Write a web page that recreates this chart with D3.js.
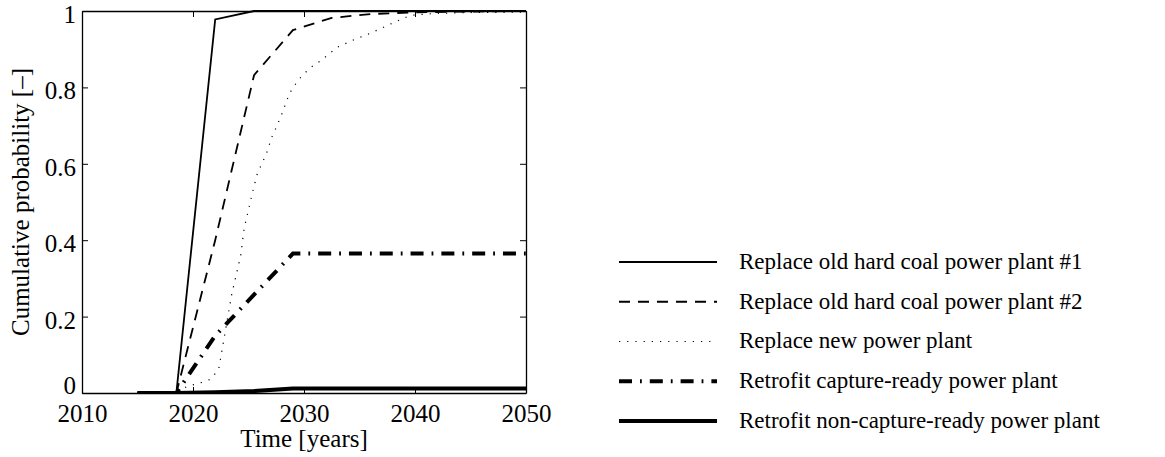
<!DOCTYPE html>
<html>
<head>
<meta charset="utf-8">
<script src="https://cdn.jsdelivr.net/npm/d3@7"></script>
<style>
  body { margin: 0; background: #fff; }
  svg text { font-family: "Liberation Serif", "Times New Roman", serif; fill: #000; }
</style>
</head>
<body>
<svg id="chart" width="1165" height="457"></svg>
<script>
// Time steps of the option model (3.5-year periods)
const years = [2015, 2018.5, 2022, 2025.5, 2029, 2032.5, 2036, 2039.5, 2043, 2046.5, 2050];
const replaceOld1 = [0, 0, 0.978, 1, 1, 1, 1, 1, 1, 1, 1];
const replaceOld2 = [0, 0, 0.40, 0.832, 0.95, 0.982, 0.992, 0.996, 0.998, 0.999, 1];
const retrofitReady = [0, 0, 0.15, 0.2575, 0.365, 0.365, 0.365, 0.365, 0.365, 0.365, 0.365];
const retrofitNonReady = [0, 0, 0.002, 0.005, 0.012, 0.012, 0.012, 0.012, 0.012, 0.012, 0.012];

// The new-plant curve is sampled more finely
const newPlantYears = [2015, 2018.5, 2019.5, 2020.5, 2021.5, 2022.3, 2022.6, 2022.9, 2023.2, 2023.5, 2023.9, 2024.3, 2024.6,
  2025.0, 2025.4, 2025.8, 2026.2, 2026.6, 2027.1, 2027.5, 2028.0, 2028.7, 2029.5, 2030.5, 2031.5, 2033.0, 2034.5,
  2036.0, 2037.5, 2038.5, 2039.3, 2040.0, 2042.0, 2045.0, 2050.0];
const newPlant = [0, 0, 0.018, 0.025, 0.035, 0.06, 0.11, 0.16, 0.21, 0.26, 0.31, 0.36, 0.43,
  0.48, 0.53, 0.575, 0.60, 0.625, 0.67, 0.695, 0.73, 0.785, 0.82, 0.85, 0.87, 0.905, 0.925,
  0.942, 0.962, 0.975, 0.985, 0.99, 0.994, 0.996, 0.997];

const xTicks = [2010, 2020, 2030, 2040, 2050];
const yTicks = [0, 0.2, 0.4, 0.6, 0.8, 1];
const yTickLabels = ["0", "0.2", "0.4", "0.6", "0.8", "1"];

const seriesNames = [
  "Replace old hard coal power plant #1",
  "Replace old hard coal power plant #2",
  "Replace new power plant",
  "Retrofit capture-ready power plant",
  "Retrofit non-capture-ready power plant"
];

const styles = [
  { width: 1.8, dash: null },
  { width: 1.8, dash: "11,8" },
  { width: 1.2, dash: "1.2,7" },
  { width: 4, dash: "13,8,1.8,8" },
  { width: 4, dash: null }
];

const series = [
  { x: years, y: replaceOld1 },
  { x: years, y: replaceOld2 },
  { x: newPlantYears, y: newPlant },
  { x: years, y: retrofitReady },
  { x: years, y: retrofitNonReady }
];

const svg = d3.select("#chart");
const margin = { left: 82, right: 526, top: 11, bottom: 393 };

const x = d3.scaleLinear().domain([2010, 2050]).range([margin.left, margin.right]);
const y = d3.scaleLinear().domain([0, 1]).range([margin.bottom, margin.top]);

const plot = svg.append("g");
plot.append("defs").append("clipPath").attr("id", "clip")
  .append("rect")
  .attr("x", margin.left).attr("y", margin.top - 3)
  .attr("width", margin.right - margin.left).attr("height", margin.bottom - margin.top + 3);

const line = d3.line().x(d => x(d[0])).y(d => y(d[1]));

// Draw thick series first, thin ones on top
const order = [4, 3, 2, 1, 0];
order.forEach(i => {
  const s = series[i];
  const pts = s.x.map((v, k) => [v, s.y[k]]);
  plot.append("path")
    .attr("d", line(pts))
    .attr("fill", "none")
    .attr("stroke", "#000")
    .attr("stroke-width", styles[i].width)
    .attr("stroke-dasharray", styles[i].dash)
    .attr("stroke-linejoin", "miter")
    .attr("clip-path", "url(#clip)");
});

// Axes (ticks pointing inward on all four sides)
const tickFont = 25;
const bottomAxis = d3.axisBottom(x).tickValues(xTicks).tickSize(-6).tickSizeOuter(0).tickFormat(d3.format("d"));
const topAxis = d3.axisTop(x).tickValues(xTicks).tickSize(-6).tickSizeOuter(0).tickFormat("");
const leftAxis = d3.axisLeft(y).tickValues(yTicks).tickSize(-6).tickSizeOuter(0).tickPadding(6).tickFormat((d, i) => yTickLabels[i]);
const rightAxis = d3.axisRight(y).tickValues(yTicks).tickSize(-6).tickSizeOuter(0).tickFormat("");

function styleAxis(g) {
  g.select(".domain").attr("stroke", "#000").attr("stroke-width", 1.3);
  g.selectAll(".tick line").attr("stroke", "#000").attr("stroke-width", 1);
  g.selectAll(".tick text").attr("font-size", tickFont);
}

svg.append("g").attr("transform", `translate(0,${margin.bottom})`).call(bottomAxis).call(styleAxis)
  .selectAll(".tick text").attr("y", 29).attr("dy", 0);
svg.append("g").attr("transform", `translate(0,${margin.top})`).call(topAxis).call(styleAxis);
svg.append("g").attr("transform", `translate(${margin.left},0)`).call(leftAxis).call(styleAxis)
  .selectAll(".tick text").attr("dy", d => d === 0 ? "0em" : "0.46em");
svg.append("g").attr("transform", `translate(${margin.right},0)`).call(rightAxis).call(styleAxis);

// Axis titles
svg.append("text")
  .attr("x", x(2030)).attr("y", 447)
  .attr("text-anchor", "middle")
  .attr("font-size", 25)
  .text("Time [years]");

svg.append("text")
  .attr("transform", `translate(29,${(margin.top + margin.bottom) / 2}) rotate(-90)`)
  .attr("text-anchor", "middle")
  .attr("font-size", 25)
  .text("Cumulative probability [\u2013]");

// Legend
const legendY = d3.scalePoint().domain(seriesNames).range([262, 421]);
const legend = svg.append("g");
seriesNames.forEach((name, i) => {
  const yy = legendY(name);
  legend.append("line")
    .attr("x1", 619).attr("x2", 717)
    .attr("y1", yy).attr("y2", yy)
    .attr("stroke", "#000")
    .attr("stroke-width", styles[i].width)
    .attr("stroke-dasharray", styles[i].dash);
  legend.append("text")
    .attr("x", 739).attr("y", yy)
    .attr("dy", "0.3em")
    .attr("font-size", 23)
    .text(name);
});
</script>
</body>
</html>
